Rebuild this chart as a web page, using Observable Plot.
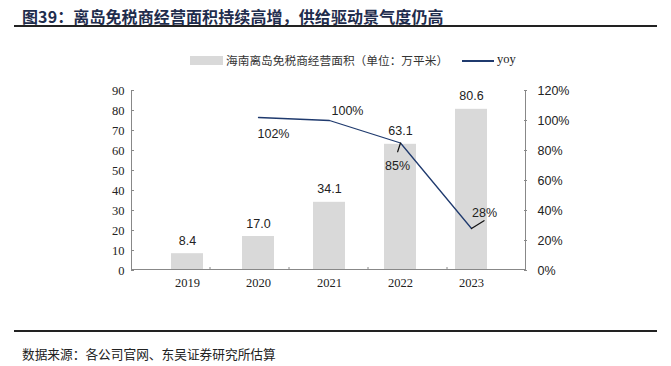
<!DOCTYPE html>
<html><head><meta charset="utf-8">
<script src="https://cdn.jsdelivr.net/npm/d3@7"></script>
<script src="https://cdn.jsdelivr.net/npm/@observablehq/plot@0.6"></script>
<style>
body{margin:0;background:#fff;}
#wrap{position:relative;width:671px;height:366px;overflow:hidden;font-family:"Noto Sans CJK SC",sans-serif;}
.title{position:absolute;left:22px;top:4px;font-size:16px;font-weight:bold;color:#1f2d4d;white-space:nowrap;letter-spacing:0.1px;}
.rule{position:absolute;left:14px;width:643px;height:2px;background:#222;}
.legend{position:absolute;top:51px;font-size:11.7px;color:#333;white-space:nowrap;}
.footer{position:absolute;left:22px;top:344px;font-size:12.7px;color:#222;white-space:nowrap;}
#chart{position:absolute;left:0;top:0;}
</style></head>
<body><div id="wrap">
<div class="title">图39：离岛免税商经营面积持续高增，供给驱动景气度仍高</div>
<div class="rule" style="top:25px"></div>
<div id="chart"></div>
<div style="position:absolute;left:190px;top:56px;width:33px;height:9px;background:#d9d9d9"></div>
<div class="legend" style="left:226px">海南离岛免税商经营面积（单位：万平米）</div>
<div style="position:absolute;left:462px;top:60px;width:32px;height:1.5px;background:#1f3a6e"></div>
<div class="legend" style="left:497px;top:52px;font-family:'Liberation Serif',serif;font-size:12.5px;color:#222">yoy</div>
<div class="rule" style="top:330px"></div>
<div class="footer">数据来源：各公司官网、东吴证券研究所估算</div>
</div>
<script>
const years = ["2019","2020","2021","2022","2023"];
const area = [8.4, 17.0, 34.1, 63.1, 80.6];
const yoyYears = ["2020","2021","2022","2023"];
const yoy = [102, 100, 85, 28];
const leftTicks = [0,10,20,30,40,50,60,70,80,90];
const rightTicks = [0,20,40,60,80,100,120];

const k = 90/120;
const bars = years.map((y,i)=>({year:y, v:area[i]}));
const line = yoyYears.map((y,i)=>({year:y, v:yoy[i]*k, p:yoy[i]}));
const labOff = {"2020":[15,16],"2021":[18,-10],"2022":[-3,23],"2023":[13,-16]};
const leaders = [{year:"2022", v:85*k, len:10, rot:198},{year:"2023", v:28*k, len:16, rot:58}];
const font = "Liberation Sans, Arial, sans-serif";

const labelMarks = line.map(d => Plot.text([d],{x:"year", y:"v", text:d=>d.p+"%", fontSize:12.5, fill:"#222", fontFamily:font, dx:labOff[d.year][0], dy:labOff[d.year][1]}));

function axisLines(index, scales, values, dim) {
  const ns = "http://www.w3.org/2000/svg";
  const g = document.createElementNS(ns, "g");
  const x0 = dim.marginLeft, x1 = dim.width - dim.marginRight;
  const yT = dim.marginTop, yB = dim.height - dim.marginBottom;
  const add = (a,b,c,d) => { const l = document.createElementNS(ns,"line");
    l.setAttribute("x1",a); l.setAttribute("y1",b); l.setAttribute("x2",c); l.setAttribute("y2",d);
    l.setAttribute("stroke","#888"); l.setAttribute("stroke-width","1"); g.appendChild(l); };
  add(x0+0.5, yT, x0+0.5, yB);
  add(x1-0.5, yT, x1-0.5, yB);
  add(x0, yB-0.5, x1, yB-0.5);
  const step = (x1 - x0) / years.length;
  for (let i = 1; i < years.length; i++) add(x0 + i*step, yB, x0 + i*step, yB - 3);
  return g;
}

const chart = Plot.plot({
  width:671, height:300,
  marginLeft:131, marginRight:145, marginTop:90, marginBottom:30,
  x:{domain:years, padding:0.555, label:null},
  y:{domain:[0,90], label:null},
  style:{background:"transparent", overflow:"visible"},
  marks:[
    Plot.barY(bars,{x:"year", y:"v", fill:"#d9d9d9"}),
    Plot.text(bars,{x:"year", y:"v", text:d=>d.v.toFixed(1), dy:-13, fontSize:12.5, fill:"#222", fontFamily:font}),
    Plot.line(line,{x:"year", y:"v", stroke:"#1f3a6e", strokeWidth:1.3}),
    Plot.vector(leaders,{x:"year", y:"v", length:"len", rotate:"rot", anchor:"start", stroke:"#111", strokeWidth:1.2,
      shape:{draw(ctx,l){ctx.moveTo(0,0); ctx.lineTo(0,-l);}}}),
    ...labelMarks,
    Plot.axisY({ticks:leftTicks, anchor:"left", tickSize:-3, tickPadding:10, tickFormat:d=>d, fontSize:12.5, fontFamily:"Liberation Serif, serif", color:"#222", label:null, stroke:"#888"}),
    Plot.axisY({ticks:rightTicks.map(t=>t*k), anchor:"right", tickSize:-3, tickPadding:14, tickFormat:d=>Math.round(d/k)+"%", fontSize:12.5, fontFamily:font, color:"#222", label:null, stroke:"#888"}),
    Plot.axisX({tickSize:0, tickPadding:8, fontSize:12.5, fontFamily:"Liberation Serif, serif", color:"#222", label:null}),
    axisLines
  ]
});
document.getElementById("chart").appendChild(chart);
</script>
</body></html>
